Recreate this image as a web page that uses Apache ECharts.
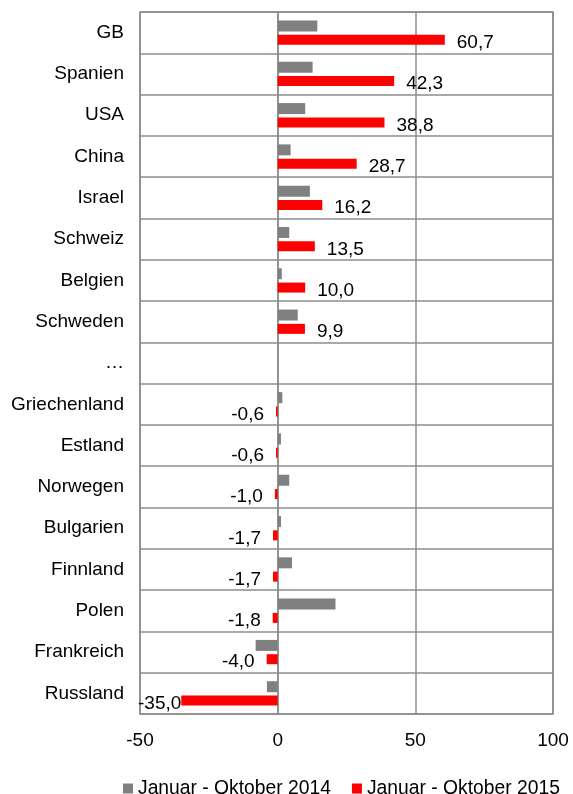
<!DOCTYPE html>
<html><head><meta charset="utf-8">
<script src="https://cdn.jsdelivr.net/npm/echarts@6/dist/echarts.min.js"></script>
<style>html,body{margin:0;padding:0;background:#fff}#c{width:573px;height:794px}</style>
</head><body><div id="c"></div>
<script>
const categories = ['GB','Spanien','USA','China','Israel','Schweiz','Belgien','Schweden','…','Griechenland','Estland','Norwegen','Bulgarien','Finnland','Polen','Frankreich','Russland'];
const series2014 = [14.4,12.7,10.0,4.7,11.7,4.2,1.5,7.3,null,1.7,1.2,4.2,1.2,5.2,21.0,-8.0,-3.9];
const series2015 = [60.7,42.3,38.8,28.7,16.2,13.5,10.0,9.9,null,-0.6,-0.6,-1.0,-1.7,-1.7,-1.8,-4.0,-35.0];
const xTicks = [-50,0,50,100];
const seriesNames = ['Januar - Oktober 2014','Januar - Oktober 2015'];

const FONT = 'Liberation Sans, Arial, sans-serif';
const FS = 19;
const xMin = xTicks[0], xMax = xTicks[xTicks.length-1];

const redData = series2015.map(v => {
  if (v === null) return {value: null};
  const item = {value: v, label: {position: v >= 0 ? 'right' : 'left', distance: 12}};
  // keep label inside plot area when bar reaches near left edge
  if (v < xMin + 20) item.label.distance = 0;
  return item;
});

const chart = echarts.init(document.getElementById('c'), null, {renderer:'canvas'});
chart.setOption({
  animation: false,
  textStyle: {fontFamily: FONT},
  grid: {left: 140, right: 20, top: 12, bottom: 80, show: true, borderColor: '#8c8c8c', borderWidth: 1.5, containLabel: false},
  legend: {
    data: seriesNames, left: 118, top: 774, itemWidth: 10, itemHeight: 10, itemGap: 21,
    icon: 'rect',
    textStyle: {fontFamily: FONT, fontSize: 19.3, color: '#000'}
  },
  xAxis: {
    type: 'value', min: xMin, max: xMax, interval: 50,
    axisLine: {show: false}, axisTick: {show: false},
    splitLine: {show: true, lineStyle: {color: '#8c8c8c', width: 1.5}},
    axisLabel: {fontFamily: FONT, fontSize: FS, color: '#000', margin: 17}
  },
  yAxis: {
    type: 'category', data: categories, inverse: true,
    axisLine: {show: true, onZero: true, lineStyle: {color: '#8c8c8c', width: 1.5}},
    axisTick: {show: false},
    splitLine: {show: true, lineStyle: {color: '#8c8c8c', width: 1.5}},
    axisLabel: {fontFamily: FONT, fontSize: FS, color: '#000', margin: 16, interval: 0}
  },
  series: [
    {name: seriesNames[0], type: 'bar', data: series2014, barWidth: 11, barGap: '30%', barCategoryGap: '40%',
     itemStyle: {color: '#808080'}},
    {name: seriesNames[1], type: 'bar', data: redData, barWidth: 10,
     itemStyle: {color: '#ff0000'},
     label: {show: true, fontFamily: FONT, fontSize: FS, color: '#000', offset: [0, 3],
       formatter: p => p.value == null ? '' : p.value.toFixed(1).replace('.', ',')}}
  ]
});
</script></body></html>
